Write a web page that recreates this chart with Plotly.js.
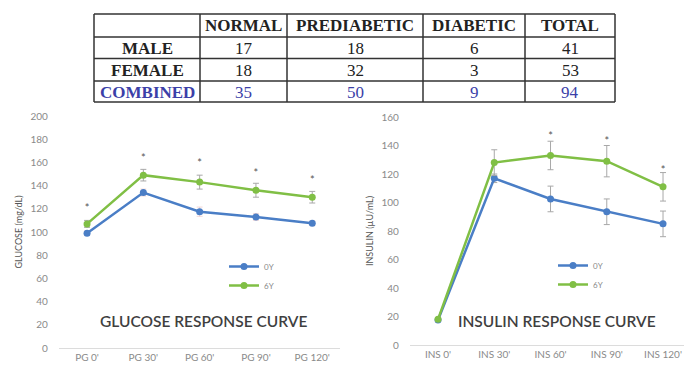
<!DOCTYPE html>
<html><head><meta charset="utf-8">
<script src="https://cdn.plot.ly/plotly-3.0.1.min.js"></script>
<style>html,body{margin:0;padding:0;background:#fff}#chart{width:684px;height:369px}</style>
</head><body><div id="chart"></div>
<script>
// ---- table data ----
const tableHeader = ["", "NORMAL", "PREDIABETIC", "DIABETIC", "TOTAL"];
const rowLabels = ["MALE", "FEMALE", "COMBINED"];
const normal = [17, 18, 35];
const prediabetic = [18, 32, 50];
const diabetic = [6, 3, 9];
const total = [41, 53, 94];

// ---- glucose curve ----
const glucoseLabels = ["PG 0'", "PG 30'", "PG 60'", "PG 90'", "PG 120'"];
const glucose0Y = [99, 134, 117.5, 113, 107.5];
const glucose0YErr = [2, 3, 4, 3, 2];
const glucose6Y = [107, 149, 143, 136, 130];
const glucose6YErr = [3, 5, 6, 6, 5];
const glucoseStar = [120, 163, 158, 150, 144];

// ---- insulin curve ----
const insulinLabels = ["INS 0'", "INS 30'", "INS 60'", "INS 90'", "INS 120'"];
const insulin0Y = [17.5, 117, 102.5, 93.5, 85];
const insulin0YErr = [1, 3, 9, 9, 9];
const insulin6Y = [18, 128, 133, 129, 111];
const insulin6YErr = [1, 9, 10, 11, 10];
const insulinStarLabels = ["INS 60'", "INS 90'", "INS 120'"];
const insulinStar = [146, 142, 122];

const seriesNames = ["0Y", "6Y"];

const W = 684, H = 369;
const BLUE = '#4a7ec6', GREEN = '#80bf45';
const FONT = 'Lato, "Liberation Sans", sans-serif';
const SERIF = '"Liberation Serif", "DejaVu Serif", serif';
const TXT = '#222', COMB = '#3b3fa8';

// table geometry (layout, pixels)
const colEdges = [94, 200, 287, 423, 525, 615];
const rowEdges = [14, 37, 58.5, 81, 102];
const px = v => v / W, py = v => 1 - v / H;

const shapes = [];
const annotations = [];
const lineStyle = {color: '#333', width: 1.5};
colEdges.forEach(x => shapes.push({type: 'line', xref: 'paper', yref: 'paper',
  x0: px(x), x1: px(x), y0: py(rowEdges[0]), y1: py(rowEdges[rowEdges.length - 1]), line: lineStyle}));
rowEdges.forEach(y => shapes.push({type: 'line', xref: 'paper', yref: 'paper',
  x0: px(colEdges[0]), x1: px(colEdges[colEdges.length - 1]), y0: py(y), y1: py(y), line: lineStyle}));

const cellText = (text, c, r, bold, color) => annotations.push({
  text: bold ? '<b>' + text + '</b>' : String(text),
  xref: 'paper', yref: 'paper', xanchor: 'center', yanchor: 'middle', showarrow: false,
  x: px((colEdges[c] + colEdges[c + 1]) / 2), y: py((rowEdges[r] + rowEdges[r + 1]) / 2 + 0.5),
  font: {family: SERIF, size: 17, color: color}
});
tableHeader.forEach((h, c) => { if (h) cellText(h, c, 0, true, TXT); });
const cols = [normal, prediabetic, diabetic, total];
rowLabels.forEach((lab, r) => {
  const color = r === rowLabels.length - 1 ? COMB : TXT;
  cellText(lab, 0, r + 1, true, color);
  cols.forEach((col, c) => cellText(col[r], c + 1, r + 1, false, color));
});

annotations.push(
  {text: 'GLUCOSE RESPONSE CURVE', x: px(203), y: py(321), xref: 'paper', yref: 'paper',
   xanchor: 'center', yanchor: 'middle', showarrow: false,
   font: {family: FONT, size: 15.5, color: '#3f3f3f', weight: 600}},
  {text: 'INSULIN RESPONSE CURVE', x: px(557), y: py(321), xref: 'paper', yref: 'paper',
   xanchor: 'center', yanchor: 'middle', showarrow: false,
   font: {family: FONT, size: 15.5, color: '#3f3f3f', weight: 600}}
);

const errStyle = c => ({type: 'data', visible: true, thickness: 1, width: 3, color: c});

const traces = [
  {x: glucoseLabels, y: glucose0Y, name: seriesNames[0], type: 'scatter', mode: 'lines+markers',
   xaxis: 'x', yaxis: 'y', legend: 'legend',
   line: {color: BLUE, width: 2.5}, marker: {color: BLUE, size: 7},
   error_y: Object.assign({array: glucose0YErr}, errStyle('rgba(220,150,150,0.35)'))},
  {x: glucoseLabels, y: glucose6Y, name: seriesNames[1], type: 'scatter', mode: 'lines+markers',
   xaxis: 'x', yaxis: 'y', legend: 'legend',
   line: {color: GREEN, width: 2.5}, marker: {color: GREEN, size: 7},
   error_y: Object.assign({array: glucose6YErr}, errStyle('#a8a8a8'))},
  {x: glucoseLabels, y: glucoseStar, type: 'scatter', mode: 'text', text: glucoseLabels.map(() => '*'),
   xaxis: 'x', yaxis: 'y', showlegend: false, hoverinfo: 'skip',
   textfont: {family: FONT, size: 11, color: '#555'}},
  {x: insulinLabels, y: insulin0Y, name: seriesNames[0], type: 'scatter', mode: 'lines+markers',
   xaxis: 'x2', yaxis: 'y2', legend: 'legend2',
   line: {color: BLUE, width: 2.5}, marker: {color: BLUE, size: 7},
   error_y: Object.assign({array: insulin0YErr}, errStyle('#a8a8a8'))},
  {x: insulinLabels, y: insulin6Y, name: seriesNames[1], type: 'scatter', mode: 'lines+markers',
   xaxis: 'x2', yaxis: 'y2', legend: 'legend2',
   line: {color: GREEN, width: 2.5}, marker: {color: GREEN, size: 7},
   error_y: Object.assign({array: insulin6YErr}, errStyle('#a8a8a8'))},
  {x: insulinStarLabels, y: insulinStar, type: 'scatter', mode: 'text', text: insulinStarLabels.map(() => '*'),
   xaxis: 'x2', yaxis: 'y2', showlegend: false, hoverinfo: 'skip',
   textfont: {family: FONT, size: 11, color: '#555'}}
];

const tickFont = {family: FONT, size: 10, color: '#8a8a8a'};
const xCommon = {type: 'category', showgrid: false, zeroline: false, showline: true, linecolor: '#dcdcdc', linewidth: 1,
  ticks: '', tickfont: tickFont, fixedrange: true};
const yCommon = {showgrid: false, zeroline: false, showline: false, ticks: 'outside', ticklen: 8,
  tickcolor: 'rgba(0,0,0,0)', tickfont: tickFont, fixedrange: true};

const layout = {
  width: W, height: H,
  margin: {l: 0, r: 0, t: 0, b: 0},
  paper_bgcolor: '#fff', plot_bgcolor: '#fff',
  font: {family: FONT},
  xaxis: Object.assign({}, xCommon, {domain: [px(58.9), px(340.4)], range: [-0.5, 4.5], anchor: 'y'}),
  yaxis: Object.assign({}, yCommon, {domain: [py(348), py(116)], range: [0, 200], dtick: 20, anchor: 'x',
    title: {text: 'GLUCOSE (mg/dL)', font: {family: FONT, size: 9, color: '#555'}, standoff: 6}}),
  xaxis2: Object.assign({}, xCommon, {domain: [px(409.9), 1], range: [-0.5, 4.373], anchor: 'y2'}),
  yaxis2: Object.assign({}, yCommon, {domain: [py(345), py(117)], range: [0, 160], dtick: 20, anchor: 'x2',
    title: {text: 'INSULIN (µU/mL)', font: {family: FONT, size: 9, color: '#555'}, standoff: 6}}),
  legend: {x: px(224), y: py(252), xanchor: 'left', yanchor: 'top', bgcolor: 'rgba(0,0,0,0)',
    font: {family: FONT, size: 8, color: '#888'}, itemwidth: 30, tracegroupgap: 0},
  legend2: {x: px(553), y: py(251), xanchor: 'left', yanchor: 'top', bgcolor: 'rgba(0,0,0,0)',
    font: {family: FONT, size: 8, color: '#888'}, itemwidth: 30, tracegroupgap: 0},
  shapes: shapes,
  annotations: annotations,
  showlegend: true
};

Plotly.newPlot('chart', traces, layout, {staticPlot: true, displayModeBar: false});
</script>
</body></html>
